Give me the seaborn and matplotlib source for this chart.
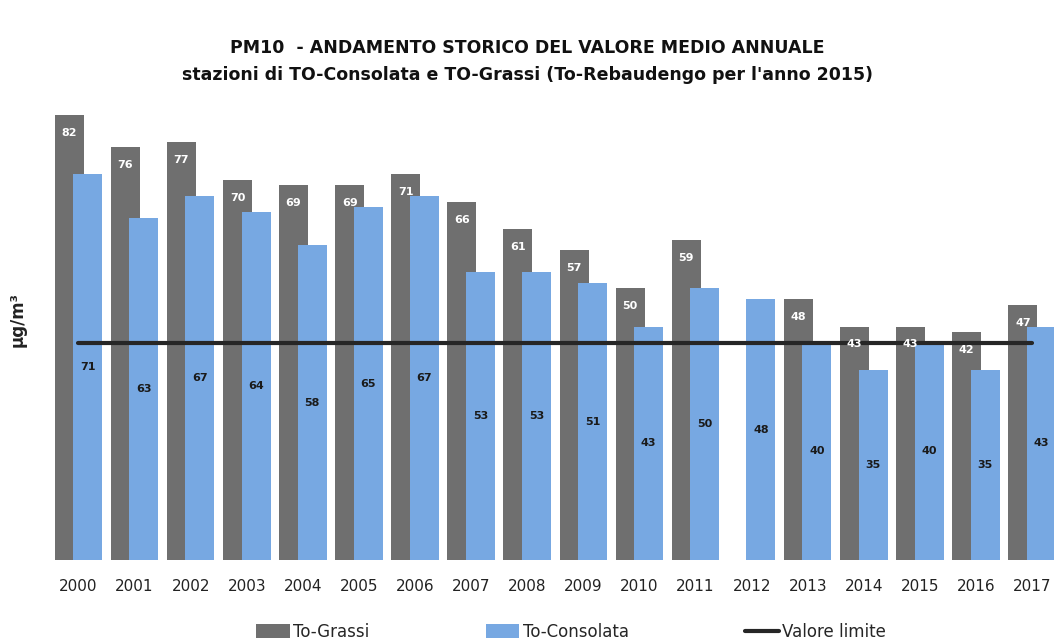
import matplotlib
matplotlib.use("Agg")
import matplotlib.pyplot as plt
import numpy as np
import pandas as pd
import seaborn as sns

years = list(range(2000, 2018))
to_grassi = [82, 76, 77, 70, 69, 69, 71, 66, 61, 57, 50, 59, np.nan, 48, 43, 43, 42, 47]
to_consolata = [71, 63, 67, 64, 58, 65, 67, 53, 53, 51, 43, 50, 48, 40, 35, 40, 35, 43]
valore_limite = [40] * len(years)

GREY = "#6f6f6f"
BLUE = "#77a8e2"
LINE = "#262626"
OFFSET = 0.165
BAR_W = 0.517

sns.set_theme(style="white")
plt.rcParams["font.family"] = ["DejaVu Sans"]

df = pd.DataFrame({"year": years, "grassi": to_grassi, "consolata": to_consolata})
grassi_df = df.dropna(subset=["grassi"])

fig = plt.figure(figsize=(10.54, 6.44), dpi=100)
ax = fig.add_axes([40 / 1054, 1 - 560 / 644, 1 - 40 / 1054, (560 - 71.3) / 644])

sns.barplot(x=grassi_df["year"] - OFFSET, y=grassi_df["grassi"], native_scale=True,
            width=BAR_W, color=GREY, saturation=1, errorbar=None, linewidth=0,
            ax=ax, label="To-Grassi")
sns.barplot(x=df["year"] + OFFSET, y=df["consolata"], native_scale=True,
            width=BAR_W, color=BLUE, saturation=1, errorbar=None, linewidth=0,
            ax=ax, label="To-Consolata")
sns.lineplot(x=years, y=valore_limite, color=LINE, linewidth=3, ax=ax,
             label="Valore limite")

for yr, g, c in zip(years, to_grassi, to_consolata):
    if not np.isnan(g):
        ax.text(yr - OFFSET, g - 3.3, f"{int(g)}", ha="center", va="center",
                color="white", fontsize=8, fontweight="bold")
    ax.text(yr + OFFSET, c / 2, f"{c}", ha="center", va="center",
            color="#1a1a1a", fontsize=8, fontweight="bold")

ax.set_xlim(2000 - 0.686, 2000 + 17.39)
ax.set_ylim(0, 90)
ax.set_xticks(years)
ax.set_xticklabels([str(y) for y in years], fontsize=11, color="#222222")
ax.set_yticks([])
ax.set_xlabel("")
ax.set_ylabel("")
ax.tick_params(axis="x", length=0, pad=14)
sns.despine(ax=ax, left=True, bottom=True)

fig.text(0.5, 1 - 48 / 644, "PM10  - ANDAMENTO STORICO DEL VALORE MEDIO ANNUALE",
         ha="center", va="center", fontsize=12.5, fontweight="bold", color="#111111")
fig.text(0.5, 1 - 75 / 644,
         "stazioni di TO-Consolata e TO-Grassi (To-Rebaudengo per l'anno 2015)",
         ha="center", va="center", fontsize=12.5, fontweight="bold", color="#111111")
fig.text(18 / 1054, 1 - 320 / 644, "μg/m³", rotation=90, ha="center", va="center",
         fontsize=12, fontweight="bold", color="#222222")

handles, labels = ax.get_legend_handles_labels()
order = [labels.index(n) for n in ["To-Grassi", "To-Consolata", "Valore limite"]]
ax.legend([handles[i] for i in order], [labels[i] for i in order], loc="center",
          bbox_to_anchor=(571 / 1054, 1 - 632 / 644), bbox_transform=fig.transFigure,
          ncol=3, frameon=False, fontsize=12, handlelength=2.0, handleheight=0.9,
          handletextpad=0.2, columnspacing=7)

fig.savefig("out.png", dpi=100)
